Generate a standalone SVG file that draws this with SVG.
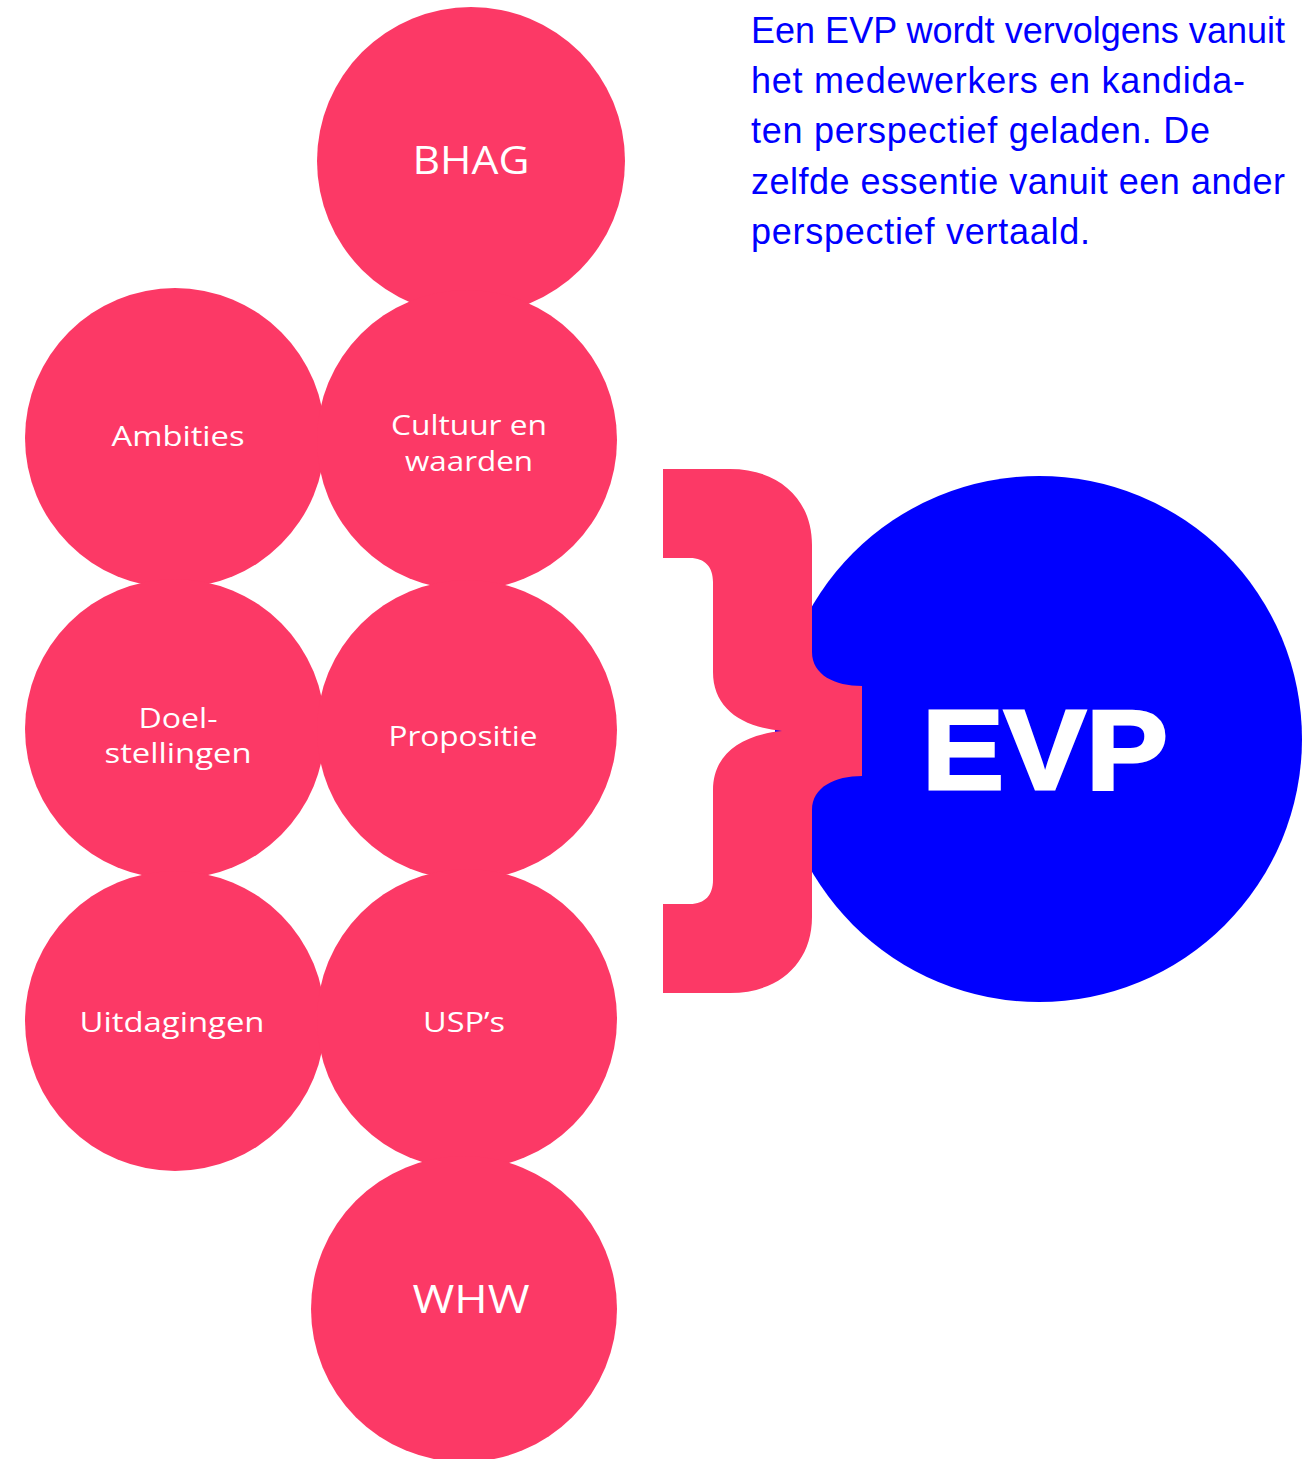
<svg xmlns="http://www.w3.org/2000/svg" width="1316" height="1459" viewBox="0 0 1316 1459">
<style>
.pink{fill:#FC3966}
.blue{fill:#0000FF}
.lbl{font-family:"Open Sans","Liberation Sans",sans-serif;fill:#FFFFFF;font-size:28px;text-anchor:middle}
.big{font-size:38px}
.intro{font-family:"Liberation Sans",Arial,sans-serif;fill:#0000FF;font-size:36px}
.evp{font-family:"Liberation Sans",Arial,sans-serif;font-weight:bold;fill:#FFFFFF;stroke:#FFFFFF;stroke-width:3;stroke-linejoin:miter;font-size:114px}
</style>
<rect width="1316" height="1459" fill="#FFFFFF"/>
<g id="evp">
<circle class="blue" cx="1039" cy="739" r="263"/>
</g>
<g id="connectors">
<rect class="blue" x="775" y="730" width="8" height="2"/>
<path class="pink" d="M663,469 H730 C780,469 812,500 812,545 V652 C812,675 835,686 862,686 V776 C835,776 812,787 812,810 V917 C812,962 780,993 730,993 H663 V904 H690 C705,904 713,895 713,880 V790 C713,755 740,735 782,731 C740,727 713,707 713,672 V582 C713,567 705,558 690,558 H663 Z"/>
</g>
<g id="evp-label">
<text class="evp" x="922" y="789" textLength="246" lengthAdjust="spacingAndGlyphs">EVP</text>
</g>
<g id="bhag">
<circle class="pink" cx="471" cy="161" r="154"/>
<text class="lbl big" x="471" y="174" textLength="117" lengthAdjust="spacingAndGlyphs">BHAG</text>
</g>
<g id="ambities">
<circle class="pink" cx="175" cy="438" r="150"/>
<text class="lbl" x="178" y="446" textLength="133" lengthAdjust="spacingAndGlyphs">Ambities</text>
</g>
<g id="cultuur">
<circle class="pink" cx="467" cy="440" r="150"/>
<text class="lbl" x="469" y="435" textLength="156" lengthAdjust="spacingAndGlyphs">Cultuur en</text>
<text class="lbl" x="469" y="471" textLength="128" lengthAdjust="spacingAndGlyphs">waarden</text>
</g>
<g id="doelstellingen">
<circle class="pink" cx="175" cy="729" r="150"/>
<text class="lbl" x="178" y="728" textLength="79" lengthAdjust="spacingAndGlyphs">Doel-</text>
<text class="lbl" x="178" y="763" textLength="147" lengthAdjust="spacingAndGlyphs">stellingen</text>
</g>
<g id="propositie">
<circle class="pink" cx="467" cy="730" r="150"/>
<text class="lbl" x="463" y="746" textLength="149" lengthAdjust="spacingAndGlyphs">Propositie</text>
</g>
<g id="uitdagingen">
<circle class="pink" cx="175" cy="1021" r="150"/>
<text class="lbl" x="172" y="1032" textLength="185" lengthAdjust="spacingAndGlyphs">Uitdagingen</text>
</g>
<g id="usps">
<circle class="pink" cx="467" cy="1019" r="150"/>
<text class="lbl" x="464" y="1032" textLength="82" lengthAdjust="spacingAndGlyphs">USP’s</text>
</g>
<g id="whw">
<circle class="pink" cx="464" cy="1309" r="153"/>
<text class="lbl big" x="471" y="1313" textLength="117" lengthAdjust="spacingAndGlyphs">WHW</text>
</g>
<g id="intro">
<text class="intro" x="751" y="43" textLength="534" lengthAdjust="spacing">Een EVP wordt vervolgens vanuit</text>
<text class="intro" x="751" y="93" textLength="494" lengthAdjust="spacing">het medewerkers en kandida-</text>
<text class="intro" x="751" y="143" textLength="459" lengthAdjust="spacing">ten perspectief geladen. De</text>
<text class="intro" x="751" y="194" textLength="534" lengthAdjust="spacing">zelfde essentie vanuit een ander</text>
<text class="intro" x="751" y="244" textLength="339" lengthAdjust="spacing">perspectief vertaald.</text>
</g>
</svg>
